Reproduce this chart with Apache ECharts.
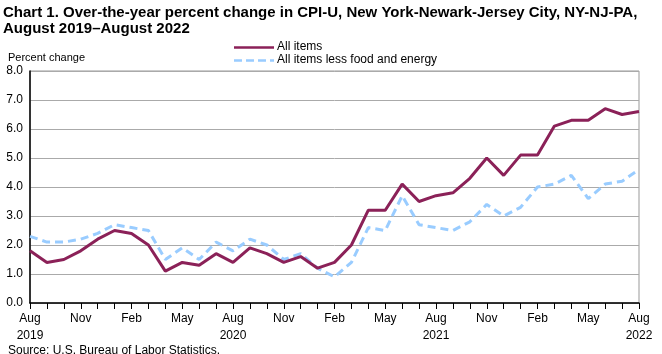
<!DOCTYPE html>
<html>
<head>
<meta charset="utf-8">
<script src="https://cdn.jsdelivr.net/npm/echarts@6/dist/echarts.min.js"></script>
<style>
  html, body { margin: 0; padding: 0; background: #fff; }
  #chart { width: 662px; height: 354px; }
</style>
</head>
<body>
<div id="chart"></div>
<script>
// months Aug 2019 - Aug 2022
var months = [
  "Aug\n2019", "Sep", "Oct", "Nov", "Dec", "Jan", "Feb", "Mar", "Apr", "May", "Jun", "Jul",
  "Aug\n2020", "Sep", "Oct", "Nov", "Dec", "Jan", "Feb", "Mar", "Apr", "May", "Jun", "Jul",
  "Aug\n2021", "Sep", "Oct", "Nov", "Dec", "Jan", "Feb", "Mar", "Apr", "May", "Jun", "Jul",
  "Aug\n2022"
];
var allItems = [
  1.8, 1.4, 1.5, 1.8, 2.2, 2.5, 2.4, 2.0, 1.1, 1.4, 1.3, 1.7,
  1.4, 1.9, 1.7, 1.4, 1.6, 1.2, 1.4, 2.0, 3.2, 3.2, 4.1, 3.5,
  3.7, 3.8, 4.3, 5.0, 4.4, 5.1, 5.1, 6.1, 6.3, 6.3, 6.7, 6.5,
  6.6
];
var lessFoodEnergy = [
  2.3, 2.1, 2.1, 2.2, 2.4, 2.7, 2.6, 2.5, 1.5, 1.9, 1.5, 2.1,
  1.8, 2.2, 2.0, 1.5, 1.7, 1.2, 0.9, 1.4, 2.6, 2.5, 3.7, 2.7,
  2.6, 2.5, 2.8, 3.4, 3.0, 3.3, 4.0, 4.1, 4.4, 3.6, 4.1, 4.2,
  4.6
];
var seriesNames = ["All items", "All items less food and energy"];
var colors = ["#8b2158", "#99ccff"];

var font = "Arial, 'Liberation Sans', sans-serif";
var myChart = echarts.init(document.getElementById("chart"));

// legend drawn by hand (line keys without symbols)
var legendItems = [];
seriesNames.forEach(function (name, i) {
  var y = 47.5 + i * 13;
  legendItems.push({
    type: "line",
    shape: { x1: 234, y1: y, x2: 274, y2: y },
    style: { stroke: colors[i], lineWidth: 2.5, lineDash: i === 1 ? [8, 4] : null }
  });
  legendItems.push({
    type: "text",
    left: 277,
    top: y - 7,
    style: { text: name, fill: "#000", font: "12px " + font }
  });
});

myChart.setOption({
  animation: false,
  textStyle: { fontFamily: font },
  title: [
    {
      text: "Chart 1. Over-the-year percent change in CPI-U, New York-Newark-Jersey City, NY-NJ-PA,\nAugust 2019\u2013August 2022",
      left: 3,
      top: 5,
      padding: 0,
      textStyle: { fontSize: 15, fontWeight: "bold", color: "#000", lineHeight: 16, fontFamily: font }
    },
    {
      text: "Percent change",
      left: 3,
      top: 47,
      textStyle: { fontSize: 11, fontWeight: "normal", color: "#000", fontFamily: font }
    },
    {
      text: "Source: U.S. Bureau of Labor Statistics.",
      left: 3,
      top: 340,
      textStyle: { fontSize: 12, fontWeight: "normal", color: "#000", fontFamily: font }
    }
  ],
  graphic: legendItems,
  grid: {
    left: 30,
    right: 23,
    top: 71,
    bottom: 51,
    show: true,
    borderColor: "#999",
    borderWidth: 1
  },
  xAxis: {
    type: "category",
    boundaryGap: false,
    data: months,
    axisLine: { lineStyle: { color: "#000", width: 1.5 } },
    axisTick: { show: true, interval: 0, length: 6, inside: false, lineStyle: { color: "#000" } },
    axisLabel: { interval: 2, color: "#000", fontSize: 12, lineHeight: 17, margin: 7 }
  },
  yAxis: {
    type: "value",
    min: 0,
    max: 8,
    interval: 1,
    axisLine: { show: true, lineStyle: { color: "#000", width: 1.5 } },
    axisTick: { show: false },
    axisLabel: {
      color: "#000",
      fontSize: 12,
      margin: 7,
      formatter: function (v) { return v.toFixed(1); }
    },
    splitLine: { lineStyle: { color: "#aaa", width: 1 } }
  },
  series: [
    {
      name: seriesNames[0],
      type: "line",
      data: allItems,
      symbol: "none",
      z: 3,
      lineStyle: { color: colors[0], width: 3 }
    },
    {
      name: seriesNames[1],
      type: "line",
      data: lessFoodEnergy,
      symbol: "none",
      z: 2,
      lineStyle: { color: colors[1], width: 3, type: [8, 5] }
    }
  ]
});
</script>
</body>
</html>
